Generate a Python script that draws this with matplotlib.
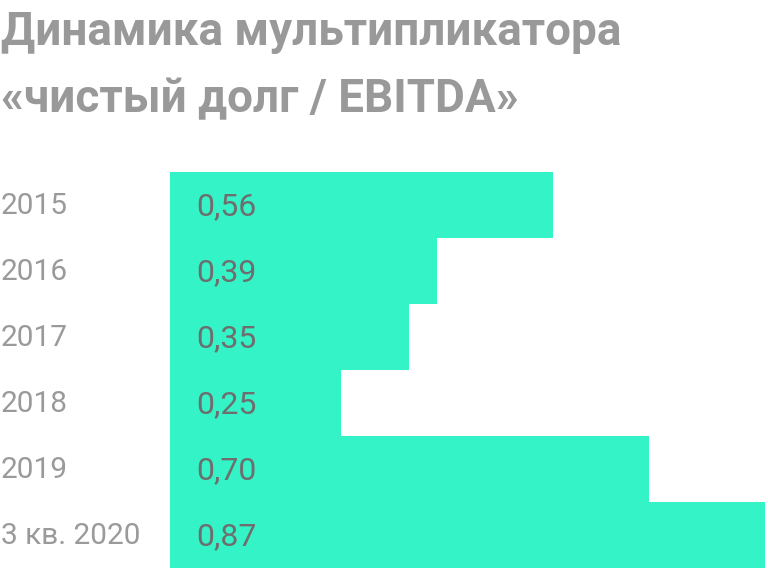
import matplotlib.pyplot as plt
from matplotlib.transforms import blended_transform_factory, offset_copy

years = ['2015', '2016', '2017', '2018', '2019', '3 кв. 2020']
values = [0.56, 0.39, 0.35, 0.25, 0.70, 0.87]
value_labels = ['0,56', '0,39', '0,35', '0,25', '0,70', '0,87']

plt.rcParams['font.family'] = ['Roboto', 'DejaVu Sans']

W, H = 768, 569
fig = plt.figure(figsize=(W / 100, H / 100), dpi=100)
ax = fig.add_axes([170 / W, 1 / H, 598 / W, 396 / H])

pos = list(range(len(years)))
ax.barh(pos, values, height=1.0, color='#33f3c7', linewidth=0)
ax.set_ylim(len(years) - 0.5, -0.5)
ax.set_xlim(0, 598 / 684)
ax.axis('off')

trans = blended_transform_factory(fig.transFigure, ax.transData)
trans = offset_copy(trans, fig=fig, y=1.5, units='dots')
for i in pos:
    ax.text(1 / W, i, years[i], transform=trans, ha='left', va='center_baseline',
            fontsize=21.5, color='#9a9a9a')
    ax.text(196 / W, i, value_labels[i], transform=trans, ha='left', va='center_baseline',
            fontsize=23, color='#6e6e6e')

fig.text(1 / W, 1 - 45 / H, 'Динамика мультипликатора', ha='left', va='baseline',
         fontsize=33, fontweight='bold', color='#999999')
fig.text(1 / W, 1 - 112 / H, '«чистый долг / EBITDA»', ha='left', va='baseline',
         fontsize=33, fontweight='bold', color='#999999')

fig.savefig('out.png', dpi=100)
